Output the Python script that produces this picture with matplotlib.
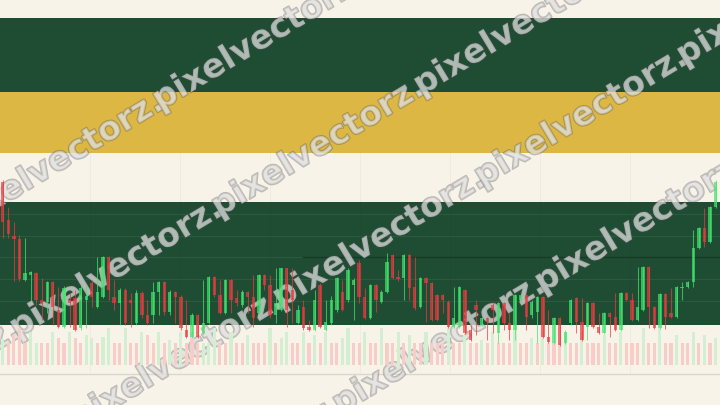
import numpy as np
import matplotlib
matplotlib.use("Agg")
import matplotlib.pyplot as plt
import matplotlib.patheffects as pe

# renk paleti
krem = "#f8f3e9"
koyu_yesil = "#1f4d33"
sari = "#dcb744"
kirmizi = (0.92, 0.23, 0.25, 0.7)
yesil = (0.26, 0.90, 0.43, 0.7)

# mum verileri (açılış, kapanış, en yüksek, en düşük)
acilis = [218, 180, 164, 161, 120, 125, 127, 100, 98, 118, 90, 73, 100, 102, 72, 100, 117, 93, 103, 143,
          103, 97, 110, 100, 77, 107, 85, 85, 108, 118, 88, 108, 103, 70, 63, 85, 67, 77, 123, 105,
          87, 120, 102, 95, 108, 103, 87, 125, 115, 85, 90, 132, 110, 77, 93, 73, 70, 115, 70, 77,
          90, 108, 100, 115, 137, 103, 82, 115, 98, 108, 145, 123, 122, 145, 113, 93, 122, 117, 105, 105,
          98, 73, 73, 110, 70, 95, 75, 82, 95, 67, 97, 77, 70, 100, 105, 85, 88, 103, 63, 57,
          82, 57, 77, 102, 78, 73, 97, 73, 67, 87, 83, 70, 107, 100, 80, 90, 133, 93, 72, 106,
          87, 83, 112, 113, 118, 152, 172, 158, 193]
kapanis = [178, 166, 161, 121, 127, 128, 100, 96, 118, 93, 73, 112, 97, 70, 112, 104, 103, 108, 143, 110,
           97, 110, 77, 97, 107, 85, 77, 108, 118, 88, 108, 103, 72, 63, 85, 63, 77, 123, 105, 87,
           120, 100, 97, 108, 103, 82, 125, 115, 85, 97, 132, 90, 100, 90, 72, 70, 100, 73, 78, 100,
           122, 90, 130, 120, 103, 82, 115, 100, 108, 138, 122, 121, 145, 112, 92, 122, 117, 80, 80, 100,
           73, 82, 113, 67, 60, 90, 82, 78, 90, 97, 77, 70, 105, 105, 83, 98, 103, 63, 58, 82,
           55, 68, 100, 78, 60, 97, 73, 67, 87, 83, 70, 107, 100, 80, 93, 133, 93, 72, 106, 83,
           83, 113, 113, 118, 152, 172, 158, 193, 218]
en_yuksek = [220, 193, 178, 165, 162, 129, 128, 122, 119, 119, 113, 114, 107, 110, 115, 115, 120, 143, 144, 144,
             120, 112, 112, 107, 110, 109, 100, 118, 119, 119, 110, 109, 105, 100, 87, 86, 120, 124, 124, 120,
             121, 121, 110, 110, 109, 125, 126, 126, 125, 132, 132, 132, 132, 95, 100, 80, 110, 117, 100, 104,
             123, 120, 132, 122, 140, 112, 116, 116, 110, 147, 146, 130, 146, 146, 143, 123, 123, 118, 106, 106,
             100, 113, 114, 111, 75, 100, 83, 83, 98, 98, 98, 87, 106, 106, 106, 100, 104, 104, 90, 83,
             83, 70, 101, 103, 102, 98, 98, 87, 88, 88, 107, 108, 108, 107, 133, 134, 134, 94, 107, 107,
             112, 114, 118, 119, 170, 173, 192, 194, 220]
en_dusuk = [162, 162, 119, 119, 119, 100, 95, 80, 87, 75, 72, 72, 73, 69, 70, 72, 93, 92, 102, 100,
            90, 75, 75, 73, 75, 82, 75, 77, 85, 85, 85, 77, 70, 62, 62, 62, 66, 76, 103, 86,
            86, 87, 94, 93, 87, 73, 86, 110, 82, 77, 89, 73, 77, 76, 70, 69, 69, 72, 69, 75,
            88, 89, 98, 80, 97, 81, 81, 88, 97, 107, 121, 119, 100, 100, 90, 92, 78, 79, 79, 87,
            72, 72, 72, 66, 59, 65, 74, 60, 67, 57, 70, 60, 60, 98, 70, 82, 57, 62, 57, 56,
            54, 56, 75, 67, 59, 60, 72, 66, 66, 63, 69, 69, 99, 79, 79, 89, 72, 71, 71, 71,
            82, 82, 100, 112, 113, 151, 153, 157, 192]

# işlem hacmi ve yönü (1 = yeşil, 0 = kırmızı)
hacim = [26, 22, 30, 37, 22, 33, 22, 22, 22, 33, 27, 22, 33, 27, 22, 30, 27, 22, 28, 37,
         22, 22, 37, 22, 22, 33, 30, 22, 33, 22, 25, 22, 33, 22, 33, 22, 22, 22, 37, 22,
         22, 33, 22, 22, 30, 22, 22, 22, 37, 22, 27, 33, 22, 22, 33, 22, 30, 22, 33, 22,
         22, 27, 37, 22, 22, 33, 22, 22, 37, 22, 22, 33, 22, 30, 22, 22, 33, 22, 22, 22,
         37, 22, 22, 30, 22, 22, 25, 22, 33, 22, 22, 22, 37, 22, 22, 27, 22, 33, 22, 22,
         22, 33, 22, 22, 33, 22, 22, 22, 30, 22, 22, 33, 22, 22, 22, 37, 22, 22, 37, 22,
         22, 30, 22, 22, 33, 22, 30, 22, 27]
hacim_yon = [1, 0, 0, 0, 0, 1, 1, 0, 0, 1, 0, 0, 1, 0, 0, 1, 1, 0, 1, 1,
             0, 0, 1, 0, 0, 1, 0, 0, 1, 0, 1, 0, 1, 0, 0, 0, 1, 1, 1, 0,
             0, 1, 0, 0, 1, 0, 0, 0, 1, 0, 1, 1, 0, 0, 1, 0, 1, 0, 1, 0,
             0, 1, 1, 0, 0, 1, 0, 0, 1, 0, 0, 1, 0, 1, 0, 0, 1, 0, 0, 0,
             1, 0, 0, 1, 0, 0, 1, 0, 1, 0, 0, 0, 1, 0, 0, 1, 0, 1, 0, 0,
             0, 1, 0, 0, 1, 0, 0, 0, 1, 0, 0, 1, 0, 0, 0, 1, 0, 0, 1, 0,
             0, 1, 0, 0, 1, 0, 1, 0, 1]

filigran = "pixelvectorz."

W, H = 720, 405
fig = plt.figure(figsize=(7.2, 4.05), dpi=100)
fig.patch.set_facecolor(krem)

# arka plan bantları (piksel koordinatlı süs ekseni)
ax_bg = fig.add_axes([0, 0, 1, 1])
ax_bg.set_xlim(0, W)
ax_bg.set_ylim(H, 0)
ax_bg.axis("off")
ax_bg.axhspan(18, 92, color=koyu_yesil, lw=0)
ax_bg.axhspan(92, 153, color=sari, lw=0)
ax_bg.axhspan(202, 325, color=koyu_yesil, lw=0)
for gy in [214, 236, 257, 279, 301]:
    ax_bg.axhline(gy, color="#2b5a3e", lw=0.8)
ax_bg.plot([303, W], [257, 257], color="#163a27", lw=1.0)
for gx in range(90, W, 90):
    ax_bg.plot([gx, gx], [153, 374], color="black", alpha=0.03, lw=0.8)
ax_bg.axhline(374, color="#dcd7cc", lw=1.0)

n = len(acilis)
x = np.arange(n)
xlim = (-0.485, 128.8)

# hacim çubukları
ax_v = fig.add_axes([0, 40 / H, 1, 40 / H])
ax_v.set_xlim(*xlim)
ax_v.set_ylim(0, 40)
ax_v.axis("off")
renk_v = ["#d4eed2" if y else "#f8cdc8" for y in hacim_yon]
ax_v.bar(x, hacim, width=0.56, color=renk_v, lw=0)

# mumlar
ax_c = fig.add_axes([0, 30 / H, 1, 222 / H])
ax_c.set_xlim(*xlim)
ax_c.set_ylim(25, 247)
ax_c.axis("off")
o = np.array(acilis)
c = np.array(kapanis)
renk = [yesil if c[i] >= o[i] else kirmizi for i in range(n)]
ax_c.vlines(x, en_dusuk, en_yuksek, colors=renk, lw=0.75)
ax_c.bar(x, np.maximum(np.abs(c - o), 1), bottom=np.minimum(o, c), width=0.6, color=renk, lw=0)

# filigran yazıları
aci = 31
egim = np.tan(np.radians(aci))
adim = 202
satirlar = [(203, 170), (345, 27), (473, 290), (615, 350)]
for kesisim, x0 in satirlar:
    for k in range(-3, 4):
        px = x0 + adim * k
        py = kesisim - egim * px
        if px > W + 20 or py < -40 or px < -260 or py > H + 160:
            continue
        ax_bg.text(px - 10, py + 10, filigran, rotation=aci, rotation_mode="anchor",
                   ha="left", va="baseline", fontsize=24, fontweight="bold",
                   color=(0.88, 0.88, 0.88, 0.5), clip_on=True,
                   path_effects=[pe.withStroke(linewidth=1.4, foreground=(0.3, 0.3, 0.3, 0.35))])

fig.savefig("out.png", dpi=100, facecolor=krem)
